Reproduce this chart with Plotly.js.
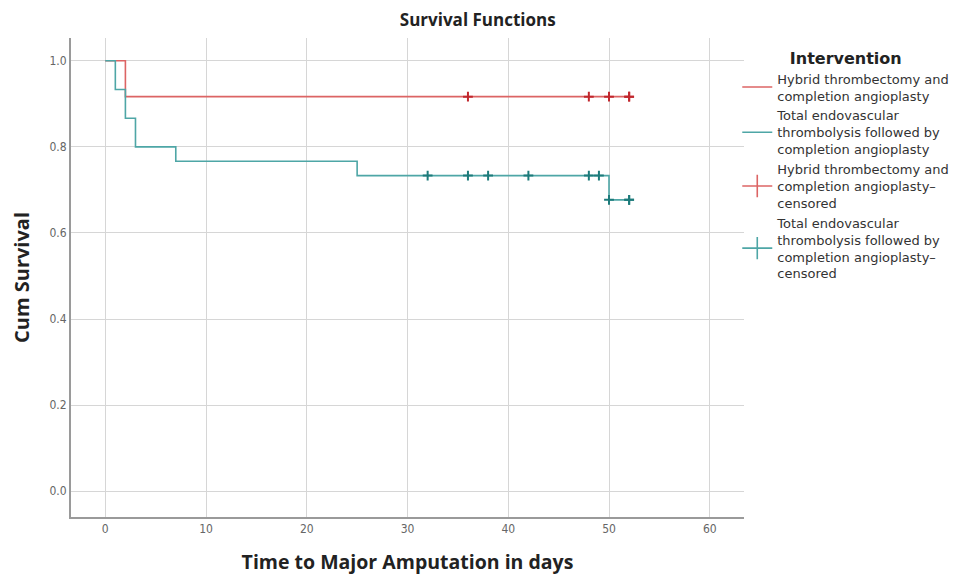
<!DOCTYPE html>
<html><head><meta charset="utf-8">
<script src="https://cdn.plot.ly/plotly-3.0.1.min.js"></script>
<style>body{margin:0;background:#fff}#c{width:971px;height:575px}</style>
</head><body><div id="c"></div>
<script>
// Data
const hybridTime = [0, 2, 52];
const hybridSurv = [1.0, 0.9167, 0.9167];
const totalTime = [0, 1, 2, 3, 7, 25, 50, 52];
const totalSurv = [1.0, 0.9333, 0.8667, 0.8, 0.7667, 0.7333, 0.6769, 0.6769];
const hybridCensTime = [36, 48, 50, 52, 52];
const hybridCensSurv = [0.9167, 0.9167, 0.9167, 0.9167, 0.9167];
const totalCensTime = [32, 36, 38, 42, 48, 49, 50, 52, 52];
const totalCensSurv = [0.7333, 0.7333, 0.7333, 0.7333, 0.7333, 0.7333, 0.6769, 0.6769, 0.6769];
const seriesNames = [
  "Hybrid thrombectomy and<br>completion angioplasty",
  "Total endovascular<br>thrombolysis followed by<br>completion angioplasty",
  "Hybrid thrombectomy and<br>completion angioplasty–<br>censored",
  "Total endovascular<br>thrombolysis followed by<br>completion angioplasty–<br>censored"
];
const xTicks = [0, 10, 20, 30, 40, 50, 60];
const yTicks = [0.0, 0.2, 0.4, 0.6, 0.8, 1.0];

const redLine = '#dc6464', redMark = '#c1272d', tealLine = '#4ea6a6', tealMark = '#1d7b7b';

const traces = [
  {x: hybridTime, y: hybridSurv, mode: 'lines', line: {shape: 'hv', color: redLine, width: 1.6}, name: seriesNames[0]},
  {x: totalTime, y: totalSurv, mode: 'lines', line: {shape: 'hv', color: tealLine, width: 1.6}, name: seriesNames[1]},
  {x: hybridCensTime, y: hybridCensSurv, mode: 'markers', marker: {symbol: 'cross-thin', size: 7, line: {color: redMark, width: 2}}, name: seriesNames[2], showlegend: false, legendgroup: 'hc'},
  {x: totalCensTime, y: totalCensSurv, mode: 'markers', marker: {symbol: 'cross-thin', size: 7, line: {color: tealMark, width: 2}}, name: seriesNames[3], showlegend: false, legendgroup: 'tc'},
  // legend-only entries (censor symbol: line with cross)
  {x: [null], y: [null], mode: 'lines+markers', line: {color: redLine, width: 1.6}, marker: {symbol: 'line-ns', size: 16, line: {color: redLine, width: 1.6}}, name: seriesNames[2], legendgroup: 'hc'},
  {x: [null], y: [null], mode: 'lines+markers', line: {color: tealLine, width: 1.6}, marker: {symbol: 'line-ns', size: 16, line: {color: tealLine, width: 1.6}}, name: seriesNames[3], legendgroup: 'tc'}
];

const layout = {
  width: 971, height: 575,
  margin: {l: 71, r: 227, t: 38, b: 58},
  paper_bgcolor: '#fff', plot_bgcolor: '#fff',
  font: {family: 'Open Sans, sans-serif', color: '#333'},
  title: {text: 'Survival Functions', font: {size: 17, family: 'Open Sans', weight: 'bold', color: '#222'}, x: 0.492, xanchor: 'center', y: 0.965, yanchor: 'middle'},
  xaxis: {
    range: [-3.4, 63.4], tickvals: xTicks, ticktext: xTicks.map(String),
    showgrid: true, gridcolor: '#d6d6d6', gridwidth: 1, zeroline: false,
    showline: true, linecolor: '#9a9a9a', linewidth: 2, ticks: '',
    tickfont: {size: 12, family: 'DejaVu Sans Condensed, Liberation Sans Narrow', color: '#666'},
    title: {text: 'Time to Major Amputation in days', font: {size: 19.5, family: 'Open Sans', weight: 'bold', color: '#222'}, standoff: 20}
  },
  yaxis: {
    range: [-0.06, 1.053], tickvals: yTicks, ticktext: yTicks.map(v => v.toFixed(1)),
    showgrid: true, gridcolor: '#d6d6d6', gridwidth: 1, zeroline: false,
    showline: true, linecolor: '#9a9a9a', linewidth: 2, ticks: '',
    tickfont: {size: 12, family: 'DejaVu Sans Condensed, Liberation Sans Narrow', color: '#666'},
    title: {text: 'Cum Survival', font: {size: 20, family: 'Open Sans', weight: 'bold', color: '#222'}, standoff: 14}
  },
  showlegend: true,
  legend: {
    x: 0.99, xanchor: 'left', y: 0.99, yanchor: 'top',
    title: {text: '<b>Intervention</b>', side: 'top center', font: {size: 16, color: '#222', family: 'DejaVu Sans'}},
    font: {size: 13, color: '#333', family: 'DejaVu Sans'},
    tracegroupgap: 0, itemwidth: 30, bgcolor: 'rgba(0,0,0,0)'
  }
};
Plotly.newPlot('c', traces, layout, {displayModeBar: false, staticPlot: true});
</script></body></html>
